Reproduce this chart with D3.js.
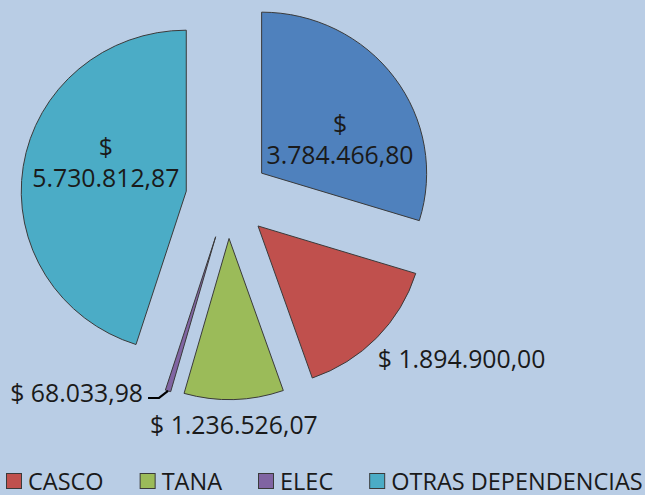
<!DOCTYPE html>
<html>
<head>
<meta charset="utf-8">
<script src="https://cdn.jsdelivr.net/npm/d3@7"></script>
<style>
  html, body { margin: 0; padding: 0; background: #B9CDE5; }
  svg { display: block; }
  text { font-family: "Open Sans", sans-serif; fill: #1a1a1a; }
</style>
</head>
<body>
<svg id="chart" width="645" height="495"></svg>
<script>
// ---- data ----
const categories = ["(sin nombre)", "CASCO", "TANA", "ELEC", "OTRAS DEPENDENCIAS"];
const values = [3784466.80, 1894900.00, 1236526.07, 68033.98, 5730812.87];
const labels = ["$ 3.784.466,80", "$ 1.894.900,00", "$ 1.236.526,07", "$ 68.033,98", "$ 5.730.812,87"];
const colors = ["#4F81BD", "#C0504D", "#9BBB59", "#8064A2", "#4BACC6"];
const legendCategories = ["CASCO", "TANA", "ELEC", "OTRAS DEPENDENCIAS"];

// ---- layout ----
const W = 645, H = 495;
const cx = 227.8, cy = 197.5;
const R = 161;
const explode = 41;
const sx = 1.025; // slight horizontal stretch of the plot area

const svg = d3.select("#chart");
svg.append("rect").attr("width", W).attr("height", H).attr("fill", "#B9CDE5");

const data = categories.map((c, i) => ({ cat: c, value: values[i], label: labels[i], color: colors[i] }));
const pie = d3.pie().value(d => d.value).sort(null).startAngle(0).endAngle(2 * Math.PI);
const arcs = pie(data);
const arc = d3.arc().innerRadius(0).outerRadius(R);

const g = svg.append("g").attr("transform", `translate(${cx},${cy}) scale(${sx},1)`);

function mid(a) { return (a.startAngle + a.endAngle) / 2; }
function sliceCenter(a) {
  const m = mid(a);
  return [cx + sx * explode * Math.sin(m), cy - explode * Math.cos(m)];
}
function onArc(a, ang, r) {
  const c = sliceCenter(a);
  return [c[0] + sx * r * Math.sin(ang), c[1] - r * Math.cos(ang)];
}

g.selectAll("path.slice")
  .data(arcs)
  .join("path")
  .attr("class", "slice")
  .attr("transform", a => {
    const m = mid(a);
    return `translate(${explode * Math.sin(m)},${-explode * Math.cos(m)})`;
  })
  .attr("d", arc)
  .attr("fill", a => a.data.color)
  .attr("stroke", "#3a3a3a")
  .attr("stroke-width", 1)
  .attr("vector-effect", "non-scaling-stroke");

const fs = 24.8;
const lab = svg.append("g").style("font-size", fs + "px");

arcs.forEach((a, i) => {
  const frac = a.value / d3.sum(values);
  const m = mid(a);
  if (frac > 0.2) {
    const p = onArc(a, m + 12 * Math.PI / 180, 84);
    const parts = a.data.label.split(" ");
    lab.append("text").attr("x", p[0]).attr("y", p[1] - 15.5)
      .attr("text-anchor", "middle").attr("dominant-baseline", "central").text(parts[0]);
    lab.append("text").attr("x", p[0]).attr("y", p[1] + 15.5)
      .attr("text-anchor", "middle").attr("dominant-baseline", "central").text(parts[1]);
  } else if (frac > 0.02) {
    const p = onArc(a, m, R);
    const s = Math.sin(m);
    const anchor = Math.abs(s) < 0.3 ? "middle" : (s > 0 ? "start" : "end");
    const dx = anchor === "middle" ? 0 : (s > 0 ? 1 : -1);
    const dy = anchor === "middle" ? 25 : 20;
    lab.append("text").attr("x", p[0] + dx).attr("y", p[1] + dy)
      .attr("text-anchor", anchor).attr("dominant-baseline", "central").text(a.data.label);
  } else {
    const p = onArc(a, m, R);
    const knee = [p[0] - 9, p[1] + 7];
    const end = [knee[0] - 11, knee[1]];
    svg.append("path")
      .attr("d", d3.line()([p, knee, end]))
      .attr("fill", "none").attr("stroke", "#000").attr("stroke-width", 2);
    lab.append("text").attr("x", end[0] - 5).attr("y", end[1] - 6)
      .attr("text-anchor", "end").attr("dominant-baseline", "central").text(a.data.label);
  }
});

// ---- legend ----
const lfs = 23.5;
const leg = svg.append("g").style("font-size", lfs + "px");
let x = 6;
const sq = 16, baseY = 489.5;
legendCategories.forEach(name => {
  const i = categories.indexOf(name);
  leg.append("rect").attr("x", x + 0.5).attr("y", 473.5).attr("width", sq - 1).attr("height", sq - 1)
    .attr("fill", colors[i]).attr("stroke", "#3a3a3a").attr("stroke-width", 1);
  const t = leg.append("text").attr("x", x + sq + 6).attr("y", baseY).text(name);
  const w = t.node().getComputedTextLength();
  x = x + sq + 6 + w + 36;
});
</script>
</body>
</html>
